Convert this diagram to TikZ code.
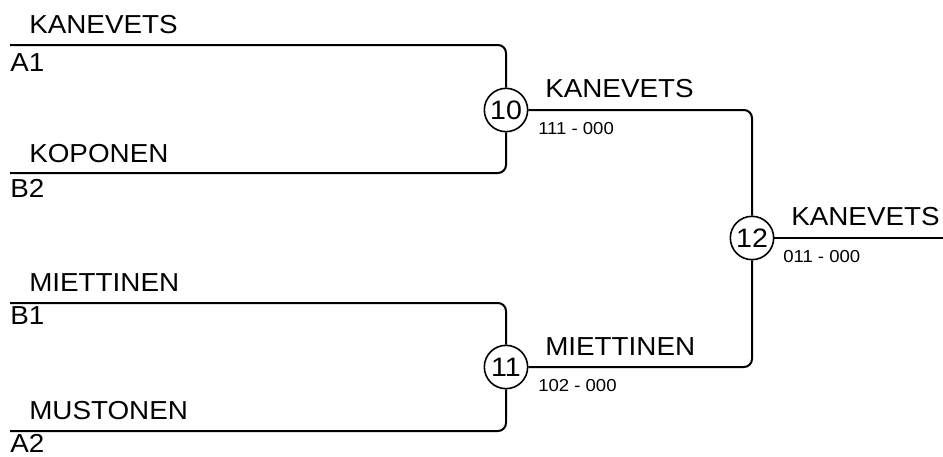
\documentclass[tikz,border=0pt]{standalone}
\usepackage{fontspec}
\setmainfont[FakeStretch=1.07]{Liberation Sans}
\usepackage{tikz}
\usetikzlibrary{positioning}
\tikzset{
    wire/.style={line width=1.5pt,rounded corners=6pt},
    match/.style={circle,draw=black,line width=1.2pt,fill=white,minimum size=32.5pt,inner sep=0pt,font=\fontsize{20}{20}\selectfont},
    player/.style={anchor=base west,inner sep=0pt,font=\fontsize{19.5}{20}\selectfont},
    score/.style={anchor=base west,inner sep=0pt,font=\fontsize{13}{14}\selectfont}
}

\begin{document}
\begin{tikzpicture}[x=0.75pt,y=-0.75pt]
  \useasboundingbox (0,0) rectangle (943,457);

  \coordinate (a1) at (10,45);
  \coordinate (b2) at (10,173);
  \coordinate (b1) at (10,303);
  \coordinate (a2) at (10,431);
  \coordinate (out) at (943,238);

  \node[match] (m10) at (506,110) {10};
  \node[match] (m11) at (506,367) {11};
  \node[match] (m12) at (752,238) {12};

  \draw[wire] (a1) -| (m10.north);
  \draw[wire] (b2) -| (m10.south);
  \draw[wire] (b1) -| (m11.north);
  \draw[wire] (a2) -| (m11.south);
  \draw[wire] (m10.east) -| (m12.north);
  \draw[wire] (m11.east) -| (m12.south);
  \draw[wire] (m12.east) -- (out);

  \node[player] (pa1) at (29,33)  {KANEVETS};
  \node[player] (sa1) at (10,71)  {A1};
  \node[player] (pb2) at (29,162) {KOPONEN};
  \node[player] (sb2) at (10,197) {B2};
  \node[player] (pb1) at (29,291) {MIETTINEN};
  \node[player] (sb1) at (10,324) {B1};
  \node[player] (pa2) at (29,419) {MUSTONEN};
  \node[player] (sa2) at (10,452) {A2};

  \node[player] (w10) at (545,97)  {KANEVETS};
  \node[score]  (r10) at (538,134) {111 - 000};
  \node[player] (w11) at (545,355) {MIETTINEN};
  \node[score]  (r11) at (538,391) {102 - 000};
  \node[player] (w12) at (791,225) {KANEVETS};
  \node[score]  (r12) at (783,262) {011 - 000};
\end{tikzpicture}
\end{document}
